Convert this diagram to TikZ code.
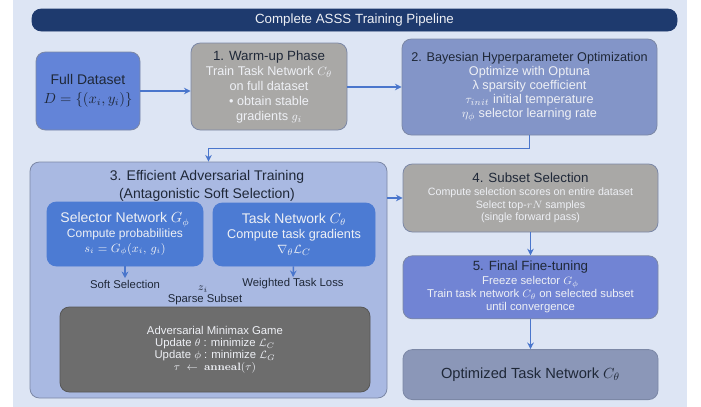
\documentclass[tikz,border=0pt]{standalone}
\usepackage{amsmath}
\usepackage[no-math]{fontspec}
\setmainfont{Liberation Sans}
\usepackage{xcolor}
\usepackage{tikz}
\usetikzlibrary{arrows.meta, positioning}

\definecolor{bgpanel}{HTML}{DDE5F4}
\definecolor{navybar}{HTML}{1E3A6E}
\definecolor{datablue}{HTML}{6384D8}
\definecolor{warmgray}{HTML}{A9A8A6}
\definecolor{bayesblue}{HTML}{8395C8}
\definecolor{advpanel}{HTML}{A9B9E2}
\definecolor{netblue}{HTML}{4C7BD3}
\definecolor{gamegray}{HTML}{6D6D6D}
\definecolor{finalblue}{HTML}{7184D4}
\definecolor{optblue}{HTML}{8B97B8}
\definecolor{arrowblue}{HTML}{4A76CC}
\definecolor{edgegray}{HTML}{7C88A6}
\definecolor{darktext}{HTML}{1F2838}
\definecolor{lighttext}{HTML}{EEF0F5}

\newcommand{\stagetitle}[1]{{\color{darktext}\fontsize{10}{12}\selectfont #1}}

\begin{document}
\begin{tikzpicture}[x=0.75pt, y=-0.75pt,
        block/.style={rectangle, draw=edgegray, line width=0.6pt, rounded corners=7pt, align=center, inner sep=2pt, text=lighttext},
        label/.style={align=center, inner sep=1pt, text=darktext, font=\fontsize{8.5}{10}\selectfont},
        line/.style={draw=arrowblue, -{Stealth[length=5pt, width=5pt]}, line width=1.1pt}]

        \useasboundingbox (0,0) rectangle (701,407);
        \fill[bgpanel] (13,0) rectangle (687,407);

        % Nodes
        \node [block, fill=navybar, draw=navybar, minimum width=483.75pt, minimum height=16.5pt, font=\fontsize{10}{12}\selectfont] (title) at (354.5,20) {Complete ASSS Training Pipeline};

        \node [block, fill=datablue, minimum width=78pt, minimum height=58.5pt, text=darktext, font=\fontsize{10.5}{14}\selectfont] (dataset) at (88,91) {Full Dataset\\ $D=\{(x_i,y_i)\}$};

        \node [block, fill=warmgray, minimum width=117pt, minimum height=65.25pt, font=\fontsize{9.5}{11.25}\selectfont] (warmup) at (269,86.5) {\stagetitle{1. Warm-up Phase}\\ Train Task Network $C_\theta$\\ on full dataset\\ \textbullet\ obtain stable\\ gradients $g_i$};

        \node [block, fill=bayesblue, minimum width=191.25pt, minimum height=72pt, font=\fontsize{9.5}{10.5}\selectfont] (bayes) at (529.5,87) {{\color{darktext}\fontsize{9.5}{12}\selectfont 2. Bayesian Hyperparameter Optimization}\\ Optimize with Optuna\\ λ sparsity coefficient\\ $\tau_{init}$ initial temperature\\ $\eta_\phi$ selector learning rate};

        \node [block, fill=advpanel, minimum width=267.75pt, minimum height=177pt] (adversarial) at (208.5,280) {};
        \node [label, font=\fontsize{10.5}{13.5}\selectfont] (advtitle) at (207,186) {3. Efficient Adversarial Training\\ (Antagonistic Soft Selection)};

        \node [block, fill=netblue, draw=netblue, minimum width=117pt, minimum height=48pt, font=\fontsize{9}{11}\selectfont] (selector) at (125,234) {{\fontsize{10.5}{12}\selectfont Selector Network $G_\phi$}\\ Compute probabilities\\ $s_i = G_\phi(x_i,\, g_i)$};
        \node [block, fill=netblue, draw=netblue, minimum width=121.5pt, minimum height=47.25pt, font=\fontsize{9.5}{11}\selectfont] (tasknet) at (294,234.5) {{\fontsize{10.5}{12}\selectfont Task Network $C_\theta$}\\ Compute task gradients\\ $\nabla_\theta\mathcal{L}_C$};

        \node [label] (softsel) at (125,284) {Soft Selection};
        \node [label] (weighted) at (293,284) {Weighted Task Loss};
        \node [label] (zi) at (203,289) {$z_i$};
        \node [label] (sparse) at (205,300) {Sparse Subset};

        \node [block, fill=gamegray, draw=gamegray!80!black, minimum width=232.5pt, minimum height=63.75pt, font=\fontsize{8.5}{9}\selectfont] (minimax) at (215,349.5) {Adversarial Minimax Game\\ Update $\theta$ : minimize $\mathcal{L}_C$\\ Update $\phi$ : minimize $\mathcal{L}_G$\\ $\tau\ \leftarrow\ \mathbf{anneal}(\tau)$};

        \node [block, fill=warmgray, minimum width=191.25pt, minimum height=51pt, font=\fontsize{8}{9.5}\selectfont] (subset) at (530.5,198) {\stagetitle{4. Subset Selection}\\ Compute selection scores on entire dataset\\ Select top-$rN$ samples\\ (single forward pass)};

        \node [block, fill=finalblue, minimum width=191.25pt, minimum height=47.25pt, font=\fontsize{8.5}{10}\selectfont, below=17.25pt of subset] (finetune) {\stagetitle{5. Final Fine-tuning}\\ Freeze selector $G_\phi$\\ Train task network $C_\theta$ on selected subset\\ until convergence};

        \node [block, fill=optblue, minimum width=191.25pt, minimum height=37.5pt, text=darktext, font=\fontsize{11}{13}\selectfont, below=22.5pt of finetune] (optimized) {Optimized Task Network $C_\theta$};

        % Edges
        \path [line] (dataset) -- (warmup.west |- dataset);
        \path [line] (warmup.east |- bayes.west) -- (bayes.west);
        \path [line] (bayes.south) -- ++(0,13) -| (adversarial.north);
        \path [line] (adversarial.east |- subset) -- (subset.west);
        \path [line] (selector) -- (softsel);
        \path [line] (tasknet) -- (weighted);
        \path [line] (subset) -- (finetune);
        \path [line] (finetune) -- (optimized);

    \end{tikzpicture}
\end{document}
